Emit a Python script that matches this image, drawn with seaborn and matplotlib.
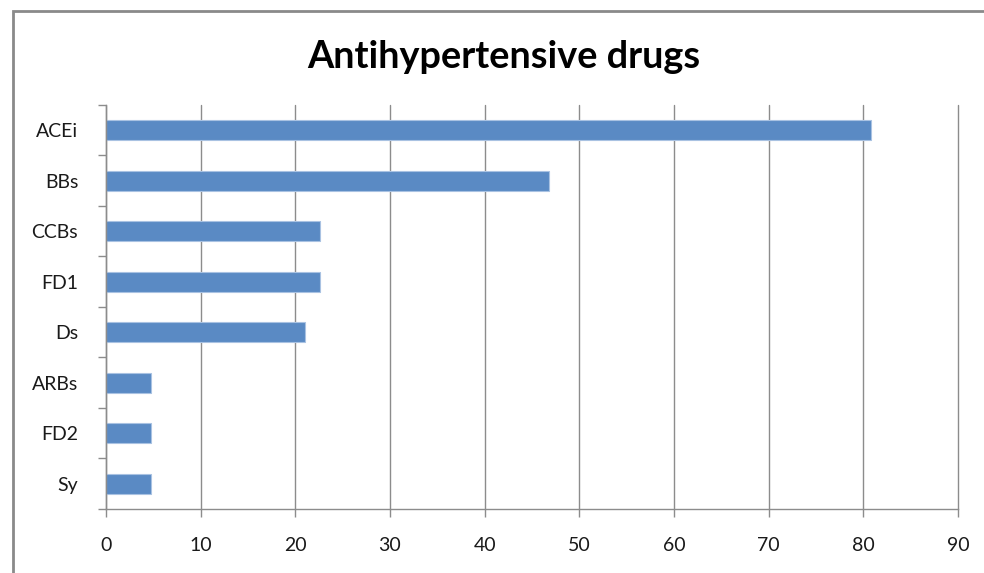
import matplotlib
matplotlib.use("Agg")
import matplotlib.pyplot as plt
import seaborn as sns
import pandas as pd
from matplotlib.patches import Rectangle
from matplotlib.ticker import FixedLocator

categories = ["ACEi", "BBs", "CCBs", "FD1", "Ds", "ARBs", "FD2", "Sy"]
values = [80.8, 46.8, 22.6, 22.6, 21.0, 4.8, 4.8, 4.8]
x_ticks = [0, 10, 20, 30, 40, 50, 60, 70, 80, 90]
title = "Antihypertensive drugs"

sns.set_style("white")
plt.rcParams['font.family'] = ['Lato', 'DejaVu Sans']

df = pd.DataFrame({"drug": categories, "value": values})

fig = plt.figure(figsize=(9.84, 5.73), dpi=100)
ax = fig.add_axes([0.1077, 0.1117, 0.9736 - 0.1077, 0.8168 - 0.1117])

sns.barplot(data=df, x="value", y="drug", orient="h", color="#5A8AC4",
            saturation=1, width=0.4, edgecolor="#A9C2E2", linewidth=0.8, ax=ax)

ax.set_xlim(0, 90)
ax.set_ylim(len(categories) - 0.5, -0.5)
ax.set_xticks(x_ticks)
ax.set_xticklabels([str(t) for t in x_ticks])
ax.xaxis.grid(True, color="#8C8C8C", linewidth=1.0)
ax.yaxis.grid(False)
ax.set_axisbelow(True)
ax.set_xlabel("")
ax.set_ylabel("")
for gl in ax.get_xgridlines():
    gl.set_clip_on(False)

# y tick marks at category boundaries
ax.yaxis.set_minor_locator(FixedLocator([i - 0.5 for i in range(len(categories) + 1)]))
ax.tick_params(axis="y", which="minor", length=6, width=1, color="#8C8C8C", direction="out", left=True)
ax.tick_params(axis="y", which="major", length=0, pad=20, labelsize=14, labelcolor="#1A1A1A")
ax.tick_params(axis="x", which="major", length=6, width=1, color="#8C8C8C", direction="out",
               bottom=True, pad=14, labelsize=14, labelcolor="#1A1A1A")

for s in ["top", "right"]:
    ax.spines[s].set_visible(False)
for s in ["left", "bottom"]:
    ax.spines[s].set_color("#8C8C8C")
    ax.spines[s].set_linewidth(1.0)

fig.text(0.5117, 0.9005, title, ha="center", va="center", fontsize=27.3, fontweight="bold", color="black")

# outer chart frame
fig.patches.append(Rectangle((13 / 984, -0.05), 1.1, 1 - 11 / 573 + 0.05, transform=fig.transFigure,
                             fill=False, edgecolor="#8A8A8A", linewidth=2.0))

fig.savefig("out.png", dpi=100)
